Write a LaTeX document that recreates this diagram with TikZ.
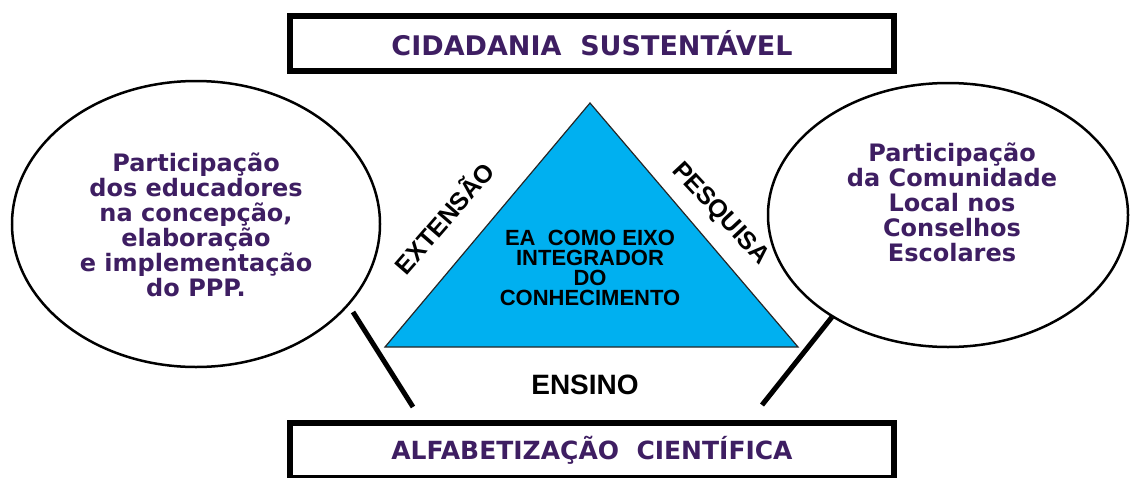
\documentclass[tikz,border=0pt]{standalone}
\usepackage{fontspec}
\setmainfont{Liberation Sans}
\newfontfamily\widefont{DejaVu Sans}
\usetikzlibrary{shapes.geometric,positioning}
\definecolor{Ink}{RGB}{62,30,98}
\definecolor{Sky}{RGB}{0,176,240}
\newcommand{\sidelabel}[4]{\node[sidetext,rotate=#3] (#1) at (#2) {#4};}
\tikzset{
  banner/.style={draw,line width=6pt,minimum width=604pt,minimum height=55pt,
    text=Ink,font=\widefont\bfseries\fontsize{27}{27}\selectfont},
  bubble/.style={draw,ellipse,line width=2.5pt},
  bubbletext/.style={align=center,text=Ink,font=\widefont\bfseries\fontsize{24}{25}\selectfont},
  sidetext/.style={font=\bfseries\fontsize{25}{25}\selectfont,inner sep=1pt},
  link/.style={line width=5pt}
}

\begin{document}
\begin{tikzpicture}[x=1pt,y=-1pt]
\useasboundingbox (0,0) rectangle (1132,477);
% top and bottom banners
\node[banner] (cidadania) at (592,43.5) {CIDADANIA\ \ SUSTENTÁVEL};
\node[banner,font=\widefont\bfseries\fontsize{25}{25}\selectfont] (alfabet) at (592,450) {ALFABETIZAÇÃO\ \ CIENTÍFICA};
% triangle
\coordinate (apex) at (590,103);
\coordinate (baseL) at (385,347);
\coordinate (baseR) at (798,347);
\filldraw[fill=Sky,draw=black!85,line width=1.2pt] (apex)--(baseL)--(baseR)--cycle;
\node[align=center,inner sep=1pt,font=\bfseries\fontsize{22}{20}\selectfont] (eixo) at (590,268)
  {EA\ \ COMO EIXO\\INTEGRADOR\\DO\\CONHECIMENTO};
\sidelabel{extensao}{443,217}{49}{EXTENSÃO}
\sidelabel{pesquisa}{720,214}{-47}{PESQUISA}
\node[sidetext,font=\bfseries\fontsize{28}{28}\selectfont] (ensino) at (585,385) {ENSINO};
% ellipses
\node[bubble,minimum width=368pt,minimum height=286pt] (ellL) at (196,224) {};
\node[bubble,minimum width=360pt,minimum height=264pt] (ellR) at (948,215) {};
\node[bubbletext,yshift=-0.5pt] (txtL) at (ellL)
  {Participação\\dos educadores\\na concepção,\\elaboração\\e implementação\\do PPP.};
\node[bubbletext,yshift=12.5pt,xshift=4pt] (txtR) at (ellR)
  {Participação\\da Comunidade\\Local nos\\Conselhos\\Escolares};
% links
\coordinate (lnL) at (353,312);
\coordinate (lnLb) at (413,407);
\coordinate (lnR) at (832,317);
\coordinate (lnRb) at (762,405);
\draw[link] (lnL)--(lnLb);
\draw[link] (lnR)--(lnRb);
\end{tikzpicture}
\end{document}
